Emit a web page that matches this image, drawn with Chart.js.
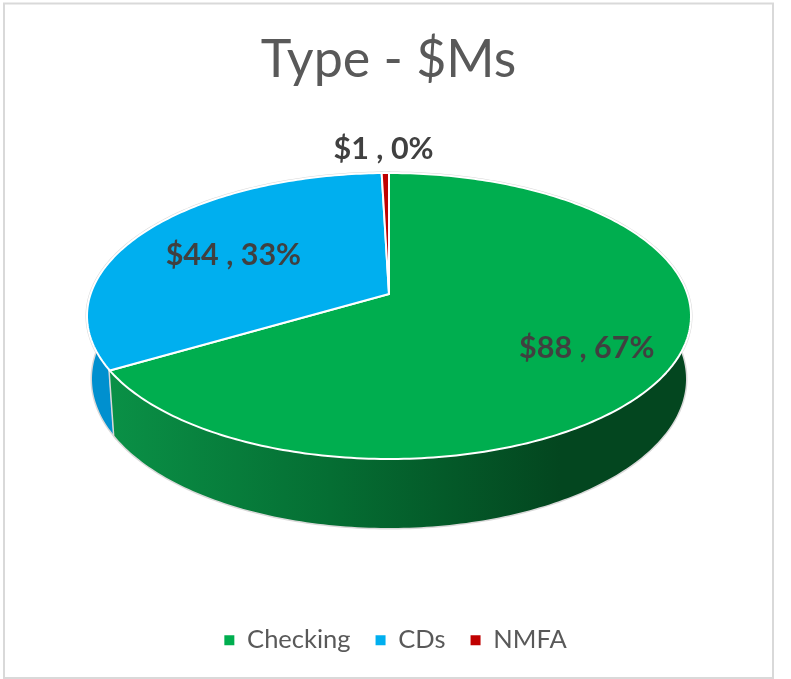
<!DOCTYPE html>
<html>
<head>
<meta charset="utf-8">
<title>Type - $Ms</title>
<script src="https://cdn.jsdelivr.net/npm/chart.js@4"></script>
<style>
    html, body { margin: 0; padding: 0; background: #fff; }
    canvas { display: block; }
</style>
</head>
<body>
<canvas id="typeChart" width="791" height="679"></canvas>
<script>
const categories = ["Checking", "CDs", "NMFA"];
const values = [88.4, 43.8, 0.6];
const sliceColors = ["#00AE4F", "#00AFEF", "#C00000"];
const wallColors = ["#03461F", "#0090CF", "#8A0000"];

// where each data label sits, as a fraction of the pie radius
const labelRadius = [0.725, 0.62, 1.24];

// geometry of the tilted pie
const topRim = { x: 389, y: 316, rx: 302, ry: 143 };
const bottomRim = { x: 389, y: 379, rx: 297, ry: 149 };
const tilt = -0.154; // moves the apex up from the ellipse centre, like perspective

// unit circle -> tilted disc (keeps the circle a circle, moves the centre)
function project(rim, r, angle) {
    const X = r * Math.cos(angle);
    const Y = r * Math.sin(angle);
    const w = 1 + tilt * Y;
    return {
        x: rim.x + rim.rx * X * Math.sqrt(1 - tilt * tilt) / w,
        y: rim.y + rim.ry * (Y + tilt) / w
    };
}

function rimPoints(rim, from, to) {
    const steps = Math.max(2, Math.ceil(Math.abs(to - from) * 60));
    const pts = [];
    for (let i = 0; i <= steps; i++) {
        pts.push(project(rim, 1, from + (to - from) * i / steps));
    }
    return pts;
}

function tracePath(ctx, pts) {
    ctx.beginPath();
    pts.forEach((p, i) => i ? ctx.lineTo(p.x, p.y) : ctx.moveTo(p.x, p.y));
    ctx.closePath();
}

class TiltArc extends Chart.ArcElement {
    drawWall(ctx, color) {
        const { startAngle, endAngle } = this.getProps(["startAngle", "endAngle"]);
        const top = rimPoints(topRim, startAngle, endAngle);
        const bottom = rimPoints(bottomRim, startAngle, endAngle).reverse();
        ctx.save();
        tracePath(ctx, top.concat(bottom));
        ctx.fillStyle = color;
        ctx.strokeStyle = "#D9D9D9";
        ctx.lineWidth = 3;
        ctx.stroke();
        ctx.fill();
        ctx.restore();
        // white seam where the slices meet on the wall
        ctx.save();
        ctx.strokeStyle = "#FFFFFF";
        ctx.lineWidth = 2;
        ctx.beginPath();
        ctx.moveTo(top[0].x, top[0].y);
        ctx.lineTo(bottom[bottom.length - 1].x, bottom[bottom.length - 1].y);
        ctx.stroke();
        ctx.restore();
    }

    draw(ctx) {
        const { startAngle, endAngle } = this.getProps(["startAngle", "endAngle"]);
        const apex = project(topRim, 0, 0);
        const pts = [apex].concat(rimPoints(topRim, startAngle, endAngle));
        ctx.save();
        tracePath(ctx, pts);
        ctx.fillStyle = this.options.backgroundColor;
        ctx.fill();
        ctx.strokeStyle = "#FFFFFF";
        ctx.lineWidth = 2;
        ctx.lineJoin = "round";
        ctx.stroke();
        ctx.restore();
    }
}
TiltArc.id = "tiltArc";
TiltArc.defaults = Chart.ArcElement.defaults;

class TiltPie extends Chart.PieController {
    draw() {
        const ctx = this.chart.ctx;
        const grad = ctx.createLinearGradient(100, 0, 560, 0);
        grad.addColorStop(0, "#0A9247");
        grad.addColorStop(0.5, "#056E33");
        grad.addColorStop(1, wallColors[0]);
        const arcs = this.getMeta().data;
        // back slices first so the big green wall ends up on top
        for (let i = arcs.length - 1; i >= 0; i--) {
            arcs[i].drawWall(ctx, i === 0 ? grad : wallColors[i]);
        }
        super.draw();
    }
}
TiltPie.id = "tiltPie";
TiltPie.defaults = { ...Chart.PieController.defaults, dataElementType: "tiltArc" };

Chart.register(TiltArc, TiltPie);

const framePlugin = {
    id: "frame",
    afterLayout(chart) {
        // the title sits a little left of the legend in the original
        chart.titleBlock.left -= 14;
    },
    beforeDraw(chart) {
        const ctx = chart.ctx;
        ctx.save();
        ctx.fillStyle = "#fff";
        ctx.fillRect(0, 0, chart.width, chart.height);
        ctx.strokeStyle = "#D9D9D9";
        ctx.lineWidth = 2;
        ctx.strokeRect(4, 3.5, 769, 674.5);
        ctx.restore();
    }
};

const labelPlugin = {
    id: "sliceLabels",
    afterDatasetsDraw(chart) {
        const ctx = chart.ctx;
        const total = values.reduce((a, b) => a + b, 0);
        const arcs = chart.getDatasetMeta(0).data;
        ctx.save();
        ctx.font = "bold 30.5px Lato";
        ctx.fillStyle = "#404040";
        ctx.textAlign = "center";
        ctx.textBaseline = "middle";
        arcs.forEach((arc, i) => {
            const mid = (arc.startAngle + arc.endAngle) / 2;
            const p = project(topRim, labelRadius[i], mid);
            const text = "$" + Math.round(values[i]) + " , " + Math.round(values[i] / total * 100) + "%";
            ctx.fillText(text, p.x - 1, p.y + 1);
        });
        ctx.restore();
    }
};

new Chart(document.getElementById("typeChart"), {
    type: "tiltPie",
    data: {
        labels: categories,
        datasets: [{
            data: values,
            backgroundColor: sliceColors,
            borderWidth: 0
        }]
    },
    options: {
        responsive: false,
        animation: false,
        layout: { padding: { top: 19, bottom: 16 } },
        plugins: {
            title: {
                display: true,
                text: "Type - $Ms",
                color: "#595959",
                font: { family: "Lato", size: 52, weight: "normal" }
            },
            legend: {
                display: true,
                position: "bottom",
                labels: {
                    color: "#595959",
                    font: { family: "Lato", size: 25.5 },
                    boxWidth: 10,
                    boxHeight: 10,
                    padding: 25
                }
            },
            tooltip: { enabled: false }
        }
    },
    plugins: [framePlugin, labelPlugin]
});
</script>
</body>
</html>
